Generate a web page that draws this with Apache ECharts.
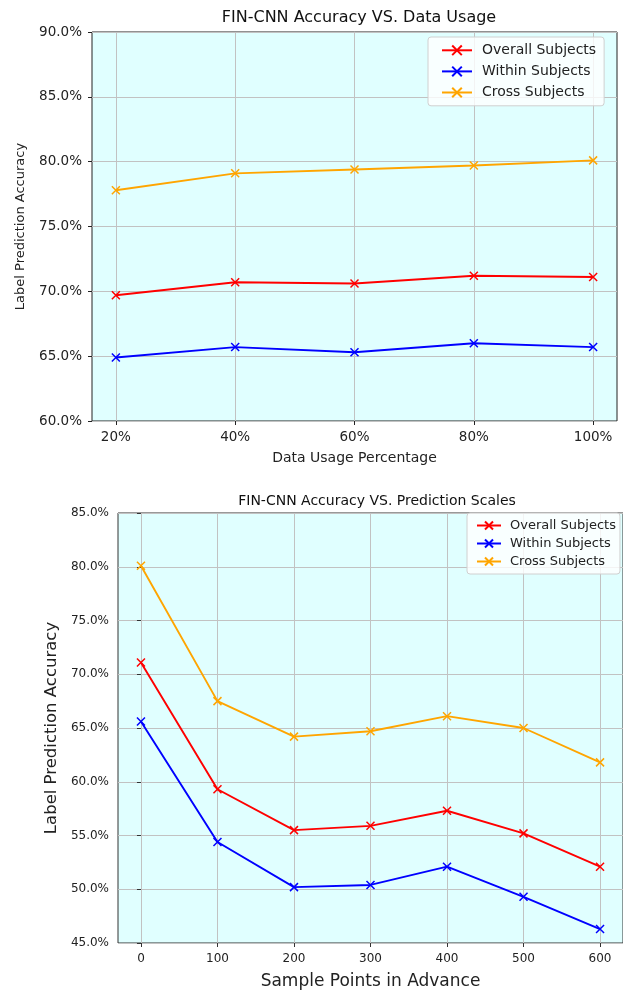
<!DOCTYPE html>
<html><head><meta charset="utf-8">
<script src="https://cdn.jsdelivr.net/npm/echarts@6/dist/echarts.min.js"></script>
<style>html,body{margin:0;padding:0;background:#fff;overflow:hidden}#c{width:623px;height:991px}</style>
</head><body><div id="c"></div>
<script>
// Chart 1: Data usage
const usageX = [20, 40, 60, 80, 100];
const usageOverall = [69.7, 70.7, 70.6, 71.2, 71.1];
const usageWithin = [64.9, 65.7, 65.3, 66.0, 65.7];
const usageCross = [77.8, 79.1, 79.4, 79.7, 80.1];
// Chart 2: Prediction scales
const scaleX = [0, 100, 200, 300, 400, 500, 600];
const scaleOverall = [71.1, 59.3, 55.5, 55.9, 57.3, 55.2, 52.1];
const scaleWithin = [65.6, 54.4, 50.2, 50.4, 52.1, 49.3, 46.3];
const scaleCross = [80.1, 67.5, 64.2, 64.7, 66.1, 65.0, 61.8];
const seriesNames = ['Overall Subjects', 'Within Subjects', 'Cross Subjects'];
const colors = ['#ff0000', '#0000ff', '#ffa500'];

const FONT = 'DejaVu Sans';
const X_SYM = 'path://M0,0L10,10M10,0L0,10';
const pair = (xs, ys) => xs.map((x, i) => [x, ys[i]]);

function mkSeries(idx, xs, arrs) {
  return arrs.map((ys, i) => ({
    type: 'line', name: seriesNames[i], xAxisIndex: idx, yAxisIndex: idx,
    data: pair(xs, ys), symbol: X_SYM, symbolSize: 8, showSymbol: true,
    lineStyle: {color: colors[i], width: 1.9},
    itemStyle: {color: 'none', borderColor: colors[i], borderWidth: 1.5},
    emphasis: {disabled: true}, animation: false
  }));
}
const gridLine = {show: true, lineStyle: {color: '#c2c2c2', width: 1}};
const chart = echarts.init(document.getElementById('c'), null, {renderer: 'canvas'});
chart.setOption({
  animation: false,
  textStyle: {fontFamily: FONT},
  title: [
    {text: 'FIN-CNN Accuracy VS. Data Usage', left: 354, top: 5, textAlign: 'center',
     textStyle: {fontFamily: FONT, fontSize: 16, fontWeight: 'normal', color: '#111'}},
    {text: 'FIN-CNN Accuracy VS. Prediction Scales', left: 372, top: 489, textAlign: 'center',
     textStyle: {fontFamily: FONT, fontSize: 14, fontWeight: 'normal', color: '#111'}}
  ],
  grid: [
    {left: 92, top: 32, width: 525, height: 389, show: true, backgroundColor: '#e0ffff', borderColor: '#222', borderWidth: 1},
    {left: 118, top: 513, width: 513, height: 432, show: true, backgroundColor: '#e0ffff', borderColor: '#333', borderWidth: 1}
  ],
  xAxis: [
    {type: 'value', gridIndex: 0, min: 16, max: 104,
     axisLine: {show: false}, axisTick: {show: true, inside: false, length: 4, customValues: usageX, lineStyle: {color: '#222'}},
     axisLabel: {customValues: usageX, formatter: v => v + '%', fontSize: 13.5, color: '#222', margin: 9, fontFamily: FONT},
     splitLine: gridLine,
     name: 'Data Usage Percentage', nameLocation: 'middle', nameGap: 30,
     nameTextStyle: {fontSize: 14, color: '#222', fontFamily: FONT}},
    {type: 'value', gridIndex: 1, min: -30, max: 630,
     axisLine: {show: false}, axisTick: {show: true, inside: false, length: 4, customValues: scaleX, lineStyle: {color: '#333'}},
     axisLabel: {customValues: scaleX, fontSize: 12, color: '#222', margin: 10, fontFamily: FONT},
     splitLine: gridLine,
     name: 'Sample Points in Advance', nameLocation: 'middle', nameGap: 30,
     nameTextStyle: {fontSize: 17, color: '#222', fontFamily: FONT}}
  ],
  yAxis: [
    {type: 'value', gridIndex: 0, min: 60, max: 90, interval: 5,
     axisLine: {show: false}, axisTick: {show: true, length: 4, lineStyle: {color: '#222'}},
     axisLabel: {formatter: v => v.toFixed(1) + '%', fontSize: 13.5, color: '#222', margin: 10, fontFamily: FONT},
     splitLine: gridLine,
     name: 'Label Prediction Accuracy', nameLocation: 'middle', nameGap: 65, nameRotate: 90,
     nameTextStyle: {fontSize: 13, color: '#222', fontFamily: FONT}},
    {type: 'value', gridIndex: 1, min: 45, max: 85, interval: 5,
     axisLine: {show: false}, axisTick: {show: true, length: 4, lineStyle: {color: '#333'}},
     axisLabel: {formatter: v => v.toFixed(1) + '%', fontSize: 12, color: '#222', margin: 9, fontFamily: FONT},
     splitLine: gridLine,
     name: 'Label Prediction Accuracy', nameLocation: 'middle', nameGap: 56, nameRotate: 90,
     nameTextStyle: {fontSize: 16.5, color: '#222', fontFamily: FONT}}
  ],
  legend: [
    {orient: 'vertical', left: 428, top: 37, itemWidth: 30, itemHeight: 12, itemGap: 6.5,
     padding: [6, 8, 6, 13], backgroundColor: 'rgba(255,255,255,0.8)', borderColor: '#d0d0d0', borderWidth: 1, borderRadius: 3,
     textStyle: {fontSize: 14, color: '#222', fontFamily: FONT, padding: [0, 0, 0, 5]}, data: seriesNames, selectedMode: false},
    {orient: 'vertical', left: 467, top: 513, itemWidth: 24, itemHeight: 10, itemGap: 5,
     padding: [6, 4, 6, 9], backgroundColor: 'rgba(255,255,255,0.8)', borderColor: '#d0d0d0', borderWidth: 1, borderRadius: 3,
     textStyle: {fontSize: 13, color: '#222', fontFamily: FONT, padding: [0, 0, 0, 4]}, data: seriesNames, selectedMode: false}
  ],
  series: [
    ...mkSeries(0, usageX, [usageOverall, usageWithin, usageCross]),
    ...mkSeries(1, scaleX, [scaleOverall, scaleWithin, scaleCross])
  ]
});
</script></body></html>
